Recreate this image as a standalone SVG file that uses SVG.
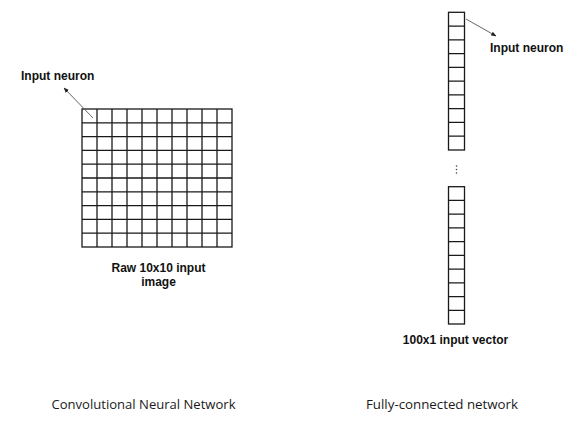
<svg xmlns="http://www.w3.org/2000/svg" width="583" height="427" viewBox="0 0 583 427">
<defs>
<style>
.g{fill:none;stroke:#1a1a1a;stroke-width:1.3}
.a{stroke:#555;stroke-width:0.9;fill:none}
.b{font-family:"Liberation Sans",Arial,sans-serif;font-weight:bold;font-size:12px;fill:#111}
.c{font-family:"Open Sans","Liberation Sans",sans-serif;font-size:13px;fill:#1a1a1a}
</style>
<marker id="ah" viewBox="0 0 10 10" refX="9" refY="5" markerWidth="6" markerHeight="6" orient="auto">
<path d="M0,1 L10,5 L0,9 Z" fill="#222"/>
</marker>
</defs>
<rect width="583" height="427" fill="#fff"/>
<g id="cnn-grid">
<rect x="82" y="109" width="150" height="138" class="g"/>
<path class="g" d="M97,109V247M112,109V247M127,109V247M142,109V247M157,109V247M172,109V247M187,109V247M202,109V247M217,109V247
M82,122.8H232M82,136.6H232M82,150.4H232M82,164.2H232M82,178H232M82,191.8H232M82,205.6H232M82,219.4H232M82,233.2H232"/>
<text class="b" x="158.5" y="272" text-anchor="middle">Raw 10x10 input</text>
<text class="b" x="158.5" y="286" text-anchor="middle">image</text>
</g>
<g id="cnn-label">
<text class="b" x="21" y="80">Input neuron</text>
</g>
<g id="fc-top">
<rect x="448.5" y="12.3" width="16" height="137.7" class="g"/>
<path class="g" d="M448.5,26.1H464.5M448.5,39.8H464.5M448.5,53.6H464.5M448.5,67.4H464.5M448.5,81.1H464.5M448.5,94.9H464.5M448.5,108.7H464.5M448.5,122.4H464.5M448.5,136.2H464.5"/>
</g>
<g id="fc-dots">
<circle cx="456.5" cy="166" r="0.8" fill="#444"/>
<circle cx="456.5" cy="169.5" r="0.8" fill="#444"/>
<circle cx="456.5" cy="173" r="0.8" fill="#444"/>
</g>
<g id="fc-bottom">
<rect x="448.5" y="186.7" width="16" height="137.3" class="g"/>
<path class="g" d="M448.5,200.4H464.5M448.5,214.2H464.5M448.5,227.9H464.5M448.5,241.6H464.5M448.5,255.4H464.5M448.5,269.1H464.5M448.5,282.8H464.5M448.5,296.6H464.5M448.5,310.3H464.5"/>
<text class="b" x="455.5" y="344" text-anchor="middle">100x1 input vector</text>
</g>
<g id="fc-label">
<text class="b" x="490" y="52">Input neuron</text>
</g>
<g id="connectors">
<line class="a" x1="93" y1="118" x2="64" y2="88" marker-end="url(#ah)"/>
<line class="a" x1="466" y1="19" x2="496" y2="36" marker-end="url(#ah)"/>
</g>
<g id="captions">
<text class="c" x="51.5" y="409" textLength="184" lengthAdjust="spacingAndGlyphs">Convolutional Neural Network</text>
<text class="c" x="366" y="409" textLength="152" lengthAdjust="spacingAndGlyphs">Fully-connected network</text>
</g>
</svg>
